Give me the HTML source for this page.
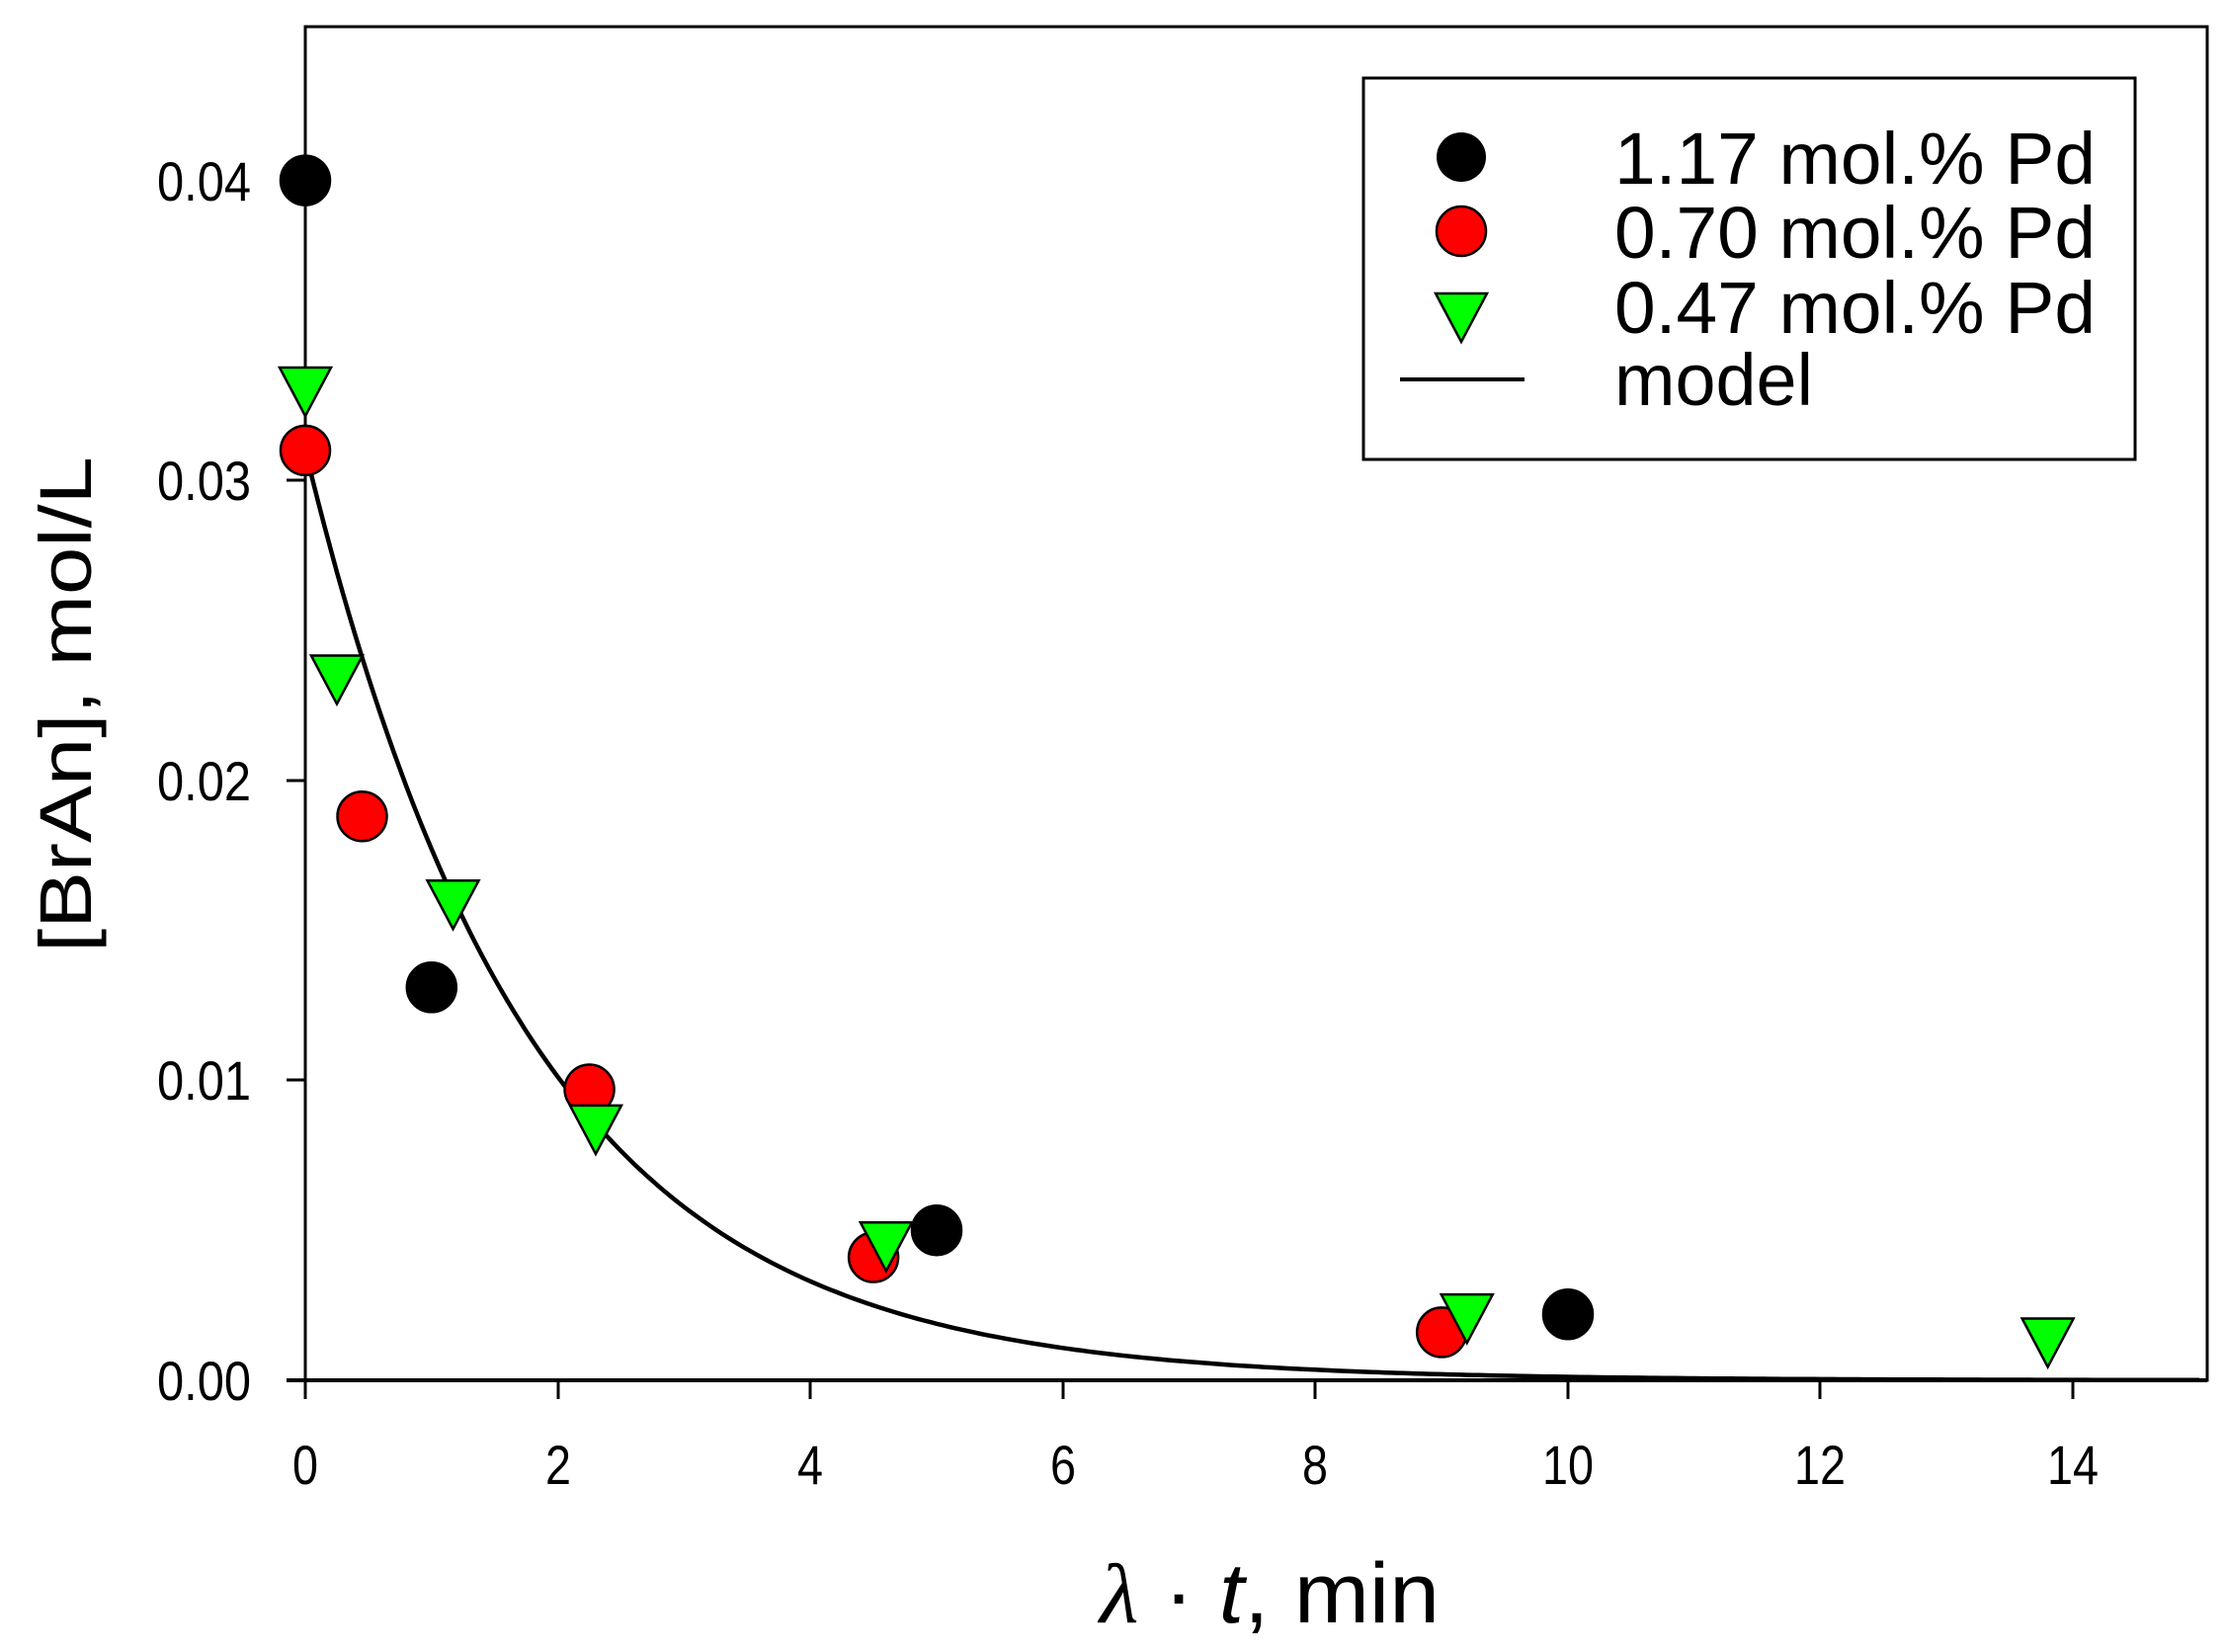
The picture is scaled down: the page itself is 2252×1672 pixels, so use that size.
<!DOCTYPE html>
<html><head><meta charset="utf-8"><style>
html,body{margin:0;padding:0;background:#fff;}
svg{display:block;}
text{font-family:"Liberation Sans",Arial,sans-serif;fill:#000;}
</style></head><body>
<svg id="s" width="2252" height="1672" viewBox="0 0 2252 1672" xmlns="http://www.w3.org/2000/svg">
<rect x="309" y="27" width="1925" height="1370" fill="none" stroke="#000" stroke-width="3"/>
<g stroke="#000" stroke-width="3">
<line x1="290" y1="1397" x2="2234" y2="1397" stroke-width="4"/>
<line x1="309" y1="1397" x2="309" y2="1416"/><line x1="565" y1="1397" x2="565" y2="1416"/>
<line x1="820" y1="1397" x2="820" y2="1416"/><line x1="1076" y1="1397" x2="1076" y2="1416"/>
<line x1="1331" y1="1397" x2="1331" y2="1416"/><line x1="1587" y1="1397" x2="1587" y2="1416"/>
<line x1="1842" y1="1397" x2="1842" y2="1416"/><line x1="2098" y1="1397" x2="2098" y2="1416"/>
<line x1="290" y1="1093" x2="309" y2="1093"/><line x1="290" y1="790" x2="309" y2="790"/>
<line x1="290" y1="486" x2="309" y2="486"/><line x1="290" y1="183" x2="309" y2="183"/>
</g>
<g font-size="56" text-anchor="end">
<text x="254" y="1417" textLength="95" lengthAdjust="spacingAndGlyphs">0.00</text>
<text x="254" y="1113" textLength="95" lengthAdjust="spacingAndGlyphs">0.01</text>
<text x="254" y="810" textLength="95" lengthAdjust="spacingAndGlyphs">0.02</text>
<text x="254" y="506" textLength="95" lengthAdjust="spacingAndGlyphs">0.03</text>
<text x="254" y="203" textLength="95" lengthAdjust="spacingAndGlyphs">0.04</text>
</g>
<g font-size="56" text-anchor="middle">
<text x="309" y="1502" textLength="26" lengthAdjust="spacingAndGlyphs">0</text>
<text x="565" y="1502" textLength="26" lengthAdjust="spacingAndGlyphs">2</text>
<text x="820" y="1502" textLength="26" lengthAdjust="spacingAndGlyphs">4</text>
<text x="1076" y="1502" textLength="26" lengthAdjust="spacingAndGlyphs">6</text>
<text x="1331" y="1502" textLength="26" lengthAdjust="spacingAndGlyphs">8</text>
<text x="1587" y="1502" textLength="52" lengthAdjust="spacingAndGlyphs">10</text>
<text x="1842" y="1502" textLength="52" lengthAdjust="spacingAndGlyphs">12</text>
<text x="2098" y="1502" textLength="52" lengthAdjust="spacingAndGlyphs">14</text>
</g>
<text x="1285" y="1642" font-size="86" text-anchor="middle" textLength="344" lengthAdjust="spacingAndGlyphs"><tspan font-style="italic" font-family="'Liberation Serif',serif">λ</tspan> · <tspan font-style="italic">t</tspan>, min</text>
<text transform="translate(92,713) rotate(-90)" font-size="74" text-anchor="middle" textLength="502" lengthAdjust="spacingAndGlyphs">[BrAn], mol/L</text>
<path id="model" fill="none" stroke="#000" stroke-width="4.5"/>
<g id="pts" stroke="#000" stroke-width="2.5"></g>
<g transform="translate(-9,0)">
<rect x="1389" y="79" width="781" height="386" fill="#fff" stroke="#000" stroke-width="3"/>
<circle cx="1488" cy="159" r="25" fill="#000"/>
<circle cx="1488" cy="234" r="25" fill="#f00" stroke="#000" stroke-width="2.5"/>
<polygon points="1462,297 1514,297 1488,346" fill="#0f0" stroke="#000" stroke-width="2.5"/>
<line x1="1426" y1="384" x2="1552" y2="384" stroke="#000" stroke-width="4"/>
<g font-size="74">
<text x="1643" y="186" textLength="487" lengthAdjust="spacingAndGlyphs">1.17 mol.% Pd</text>
<text x="1643" y="261" textLength="487" lengthAdjust="spacingAndGlyphs">0.70 mol.% Pd</text>
<text x="1643" y="337" textLength="487" lengthAdjust="spacingAndGlyphs">0.47 mol.% Pd</text>
<text x="1643" y="410" textLength="201" lengthAdjust="spacingAndGlyphs">model</text>
</g>
</g>
</svg>
<script>
var X=function(v){return 309+v*127.8}, Y=function(v){return 1397-v*30360};
var d="";for(var i=0;i<=300;i++){var x=i*0.05;d+=(i?"L":"M")+X(x).toFixed(1)+","+Y(0.031*Math.exp(-0.56*x)).toFixed(1);}
document.getElementById("model").setAttribute("d",d);
var g=document.getElementById("pts"),h="";
[[0,0.04],[1,0.0131],[5,0.005],[10,0.0022]].forEach(function(p){h+='<circle cx="'+X(p[0])+'" cy="'+Y(p[1])+'" r="25" fill="#000"/>';});
[[0,0.031],[0.45,0.0188],[2.25,0.0097],[4.5,0.0041],[9,0.0016]].forEach(function(p){h+='<circle cx="'+X(p[0])+'" cy="'+Y(p[1])+'" r="25" fill="#f00"/>';});
[[0,0.0332],[0.25,0.0236],[1.17,0.0161],[2.3,0.0086],[4.6,0.0047],[9.2,0.0023],[13.8,0.0015]].forEach(function(p){var x=X(p[0]),y=Y(p[1]);h+='<polygon points="'+(x-26)+','+(y-17)+' '+(x+26)+','+(y-17)+' '+x+','+(y+32)+'" fill="#0f0"/>';});
g.innerHTML=h;
</script>
</body></html>
